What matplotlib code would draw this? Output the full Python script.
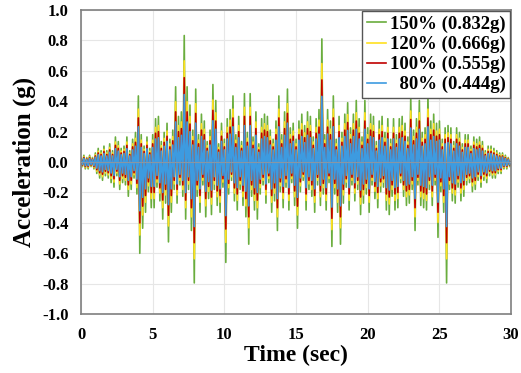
import numpy as np
import matplotlib
matplotlib.use('Agg')
import matplotlib.pyplot as plt

# 100% record, alternating peaks (one every 0.1 s)
base_record = [
    0.02, -0.02, 0.03, -0.03, 0.02, -0.03, 0.03, -0.02, 0.02, -0.03,
    0.04, -0.05, 0.06, -0.07, 0.05, -0.08, 0.07, -0.06, 0.05, -0.07,
    0.08, -0.09, 0.05, -0.11, 0.11, -0.06, 0.09, -0.12, 0.06, -0.09,
    0.07, -0.10, 0.11, -0.15, 0.05, -0.12, 0.10, -0.07, 0.13, -0.14,
    0.29, -0.40, 0.12, -0.29, 0.07, -0.22, 0.11, -0.13, 0.06, -0.20,
    0.12, -0.20, 0.19, -0.11, 0.20, -0.17, 0.09, -0.25, 0.13, -0.18,
    0.17, -0.35, 0.10, -0.22, 0.14, -0.12, 0.33, -0.18, 0.20, -0.10,
    0.22, -0.15, 0.555, -0.25, 0.33, -0.12, 0.25, -0.30, 0.14, -0.53,
    0.32, -0.15, 0.12, -0.22, 0.21, -0.10, 0.18, -0.24, 0.09, -0.16,
    0.14, -0.23, 0.34, -0.12, 0.27, -0.19, 0.08, -0.22, 0.17, -0.11,
    0.10, -0.44, 0.19, -0.14, 0.23, -0.08, 0.29, -0.17, 0.12, -0.21,
    0.20, -0.12, 0.09, -0.19, 0.30, -0.24, 0.13, -0.36, 0.30, -0.15,
    0.11, -0.21, 0.22, -0.25, 0.08, -0.14, 0.19, -0.10, 0.21, -0.18,
    0.20, -0.09, 0.14, -0.22, 0.10, -0.17, 0.18, -0.30, 0.29, -0.13,
    0.12, -0.20, 0.22, -0.11, 0.32, -0.21, 0.15, -0.09, 0.17, -0.19,
    0.10, -0.29, 0.18, -0.13, 0.21, -0.08, 0.16, -0.21, 0.22, -0.12,
    0.20, -0.15, 0.11, -0.22, 0.19, -0.10, 0.23, -0.19, 0.54, -0.14,
    0.12, -0.21, 0.23, -0.09, 0.18, -0.37, 0.29, -0.14, 0.10, -0.22,
    0.20, -0.36, 0.13, -0.18, 0.21, -0.11, 0.26, -0.21, 0.15, -0.10,
    0.21, -0.17, 0.27, -0.12, 0.19, -0.23, 0.11, -0.18, 0.27, -0.14,
    0.15, -0.22, 0.21, -0.10, 0.20, -0.16, 0.09, -0.20, 0.18, -0.13,
    0.20, -0.11, 0.13, -0.21, 0.19, -0.23, 0.10, -0.15, 0.19, -0.21,
    0.12, -0.20, 0.19, -0.09, 0.20, -0.15, 0.17, -0.19, 0.11, -0.18,
    0.28, -0.12, 0.14, -0.30, 0.19, -0.10, 0.27, -0.19, 0.13, -0.20,
    0.15, -0.21, 0.29, -0.12, 0.18, -0.19, 0.21, -0.10, 0.17, -0.33,
    0.18, -0.13, 0.10, -0.22, 0.15, -0.53, 0.16, -0.12, 0.15, -0.17,
    0.09, -0.18, 0.15, -0.11, 0.13, -0.17, 0.08, -0.15, 0.12, -0.10,
    0.12, -0.09, 0.07, -0.13, 0.11, -0.12, 0.10, -0.08, 0.11, -0.11,
    0.09, -0.08, 0.05, -0.09, 0.07, -0.06, 0.07, -0.07, 0.06, -0.07,
    0.05, -0.05, 0.04, -0.05, 0.04, -0.03, 0.03, -0.03, 0.02, -0.02,
    0.0,
]
scales = [1.5, 1.2, 1.0, 0.8]
labels = ['150% (0.832g)', '120% (0.666g)', '100% (0.555g)', '  80% (0.444g)']
colors = ['#6aad3d', '#ffe020', '#c00000', '#3d9be0']
yticks = [-1.0, -0.8, -0.6, -0.4, -0.2, 0.0, 0.2, 0.4, 0.6, 0.8, 1.0]

time = np.arange(len(base_record)) * 0.1
base = np.array(base_record)

plt.rcParams['font.family'] = 'Liberation Serif'
plt.rcParams['font.weight'] = 'bold'

fig = plt.figure(figsize=(5.21, 3.73), dpi=100)
ax = fig.add_axes([0.1555, 0.158, 0.8255, 0.815])

for s, lab, c in zip(scales, labels, colors):
    ax.plot(time, base * s, color=c, lw=1.2, label=lab)

ax.axhline(0, color='#8a96a3', lw=0.8, zorder=5)

ax.set_xlim(0, 30)
ax.set_ylim(-1.0, 1.0)
ax.set_xticks(np.arange(0, 31, 5))
ax.set_yticks(yticks)
ax.set_yticklabels(['%.1f' % v for v in yticks])
ax.grid(True, color='#e6e6e6', lw=0.8)
ax.set_axisbelow(True)
ax.tick_params(length=0, labelsize=12, pad=9)
for sp in ax.spines.values():
    sp.set_color('#7f7f7f')
    sp.set_linewidth(1.2)

ax.set_xlabel('Time (sec)', fontsize=17, fontweight='bold', labelpad=2)
ax.set_ylabel('Acceleration (g)', fontsize=18, fontweight='bold', labelpad=4)

leg = ax.legend(loc='upper right', fontsize=13.5, handlelength=1.0,
                handletextpad=0.2, borderaxespad=0.05, labelspacing=0.15,
                fancybox=False, framealpha=1, borderpad=0.25)
leg.get_frame().set_edgecolor('#555555')
leg.get_frame().set_linewidth(1.0)

fig.savefig('out.png', dpi=100)
